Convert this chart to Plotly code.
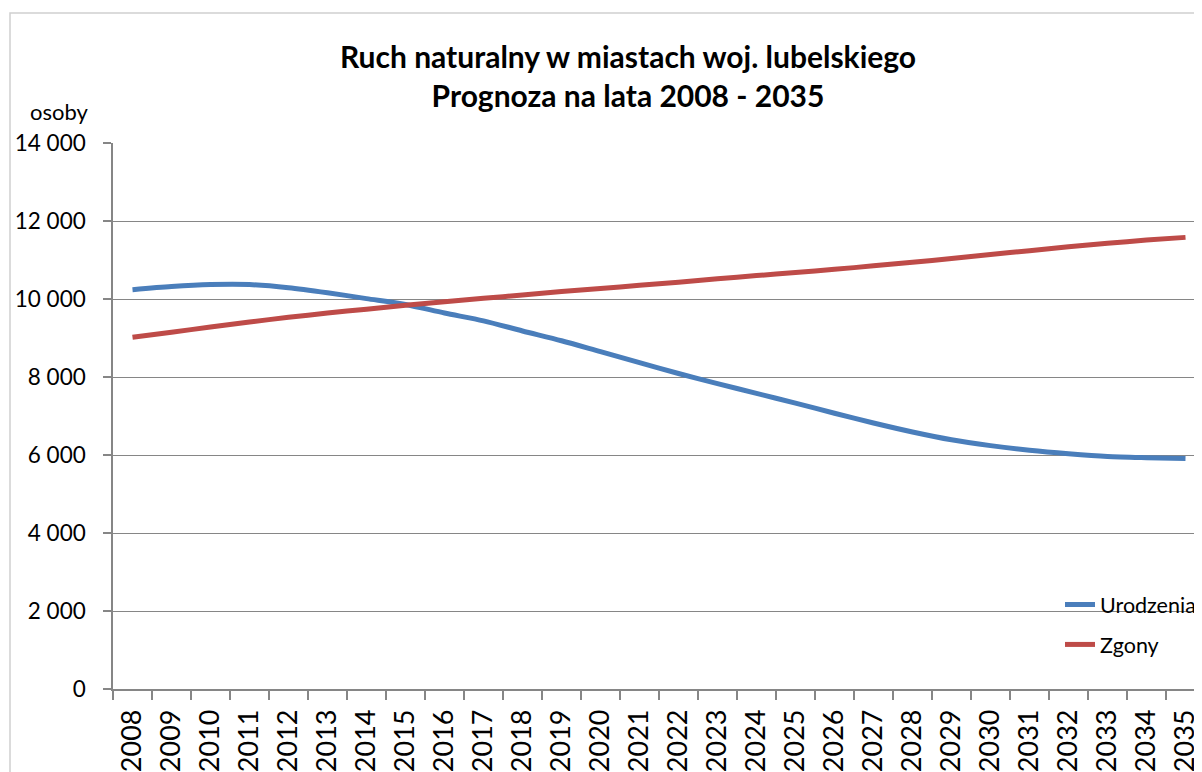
import plotly.graph_objects as go

# data
years = [str(y) for y in range(2008, 2036)]
urodzenia = [10240, 10320, 10370, 10370, 10290, 10160, 10010, 9860, 9640, 9440,
             9180, 8930, 8650, 8370, 8090, 7830, 7580, 7330, 7070, 6820,
             6590, 6390, 6240, 6120, 6030, 5960, 5930, 5910]
zgony = [9020, 9150, 9280, 9410, 9530, 9640, 9740, 9840, 9930, 10020,
         10100, 10190, 10270, 10350, 10430, 10520, 10600, 10680, 10760, 10850,
         10940, 11040, 11140, 11240, 11340, 11430, 11510, 11580]

# the page body adds an 8px offset, so positions here are shifted by -8
W, H = 1202, 772
ml, mr, mt, mb = 105, 0, 135, 91
pw = W - ml - mr
ph = H - mt - mb
grey = "#868686"
font = "Lato"


def px_x(p):
    return (p - ml) / pw


def px_y(p):
    return (H - mb - p) / ph


fig = go.Figure()
fig.add_trace(go.Scatter(x=years, y=urodzenia, name="Urodzenia", mode="lines",
                         legendgroup="a",
                         line=dict(color="#4A7EBB", width=5, shape="spline", smoothing=0.8)))
fig.add_trace(go.Scatter(x=years, y=zgony, name="Zgony", mode="lines",
                         legendgroup="b",
                         line=dict(color="#BE4B48", width=5, shape="spline", smoothing=0.8)))

fig.update_layout(
    width=W, height=H,
    margin=dict(l=ml, r=mr, t=mt, b=mb, pad=0),
    paper_bgcolor="white",
    plot_bgcolor="white",
    font=dict(family=font, color="black", size=22),
    separators=", ",
    title=dict(text="<b>Ruch naturalny w miastach woj. lubelskiego<br>Prognoza na lata 2008 - 2035</b>",
               x=620 / W, xanchor="center", xref="container",
               y=1 - 60 / H, yanchor="top",
               font=dict(family=font, size=30, color="black")),
    legend=dict(x=px_x(1052), y=px_y(576), xanchor="left", yanchor="top",
                bgcolor="rgba(0,0,0,0)", font=dict(size=21.5),
                traceorder="grouped", tracegroupgap=9),
    showlegend=True,
)

fig.update_xaxes(
    type="category", range=[-0.5, -0.5 + pw / 39.0],
    showgrid=False, showline=True, linecolor=grey, linewidth=1.5,
    ticks="outside", tickson="boundaries", ticklen=9, tickcolor=grey, tickwidth=1.5,
    tickangle=-90, tickfont=dict(size=27), ticklabelstandoff=8,
)
fig.update_yaxes(
    range=[0, 14000], dtick=2000, tickformat=",d",
    showgrid=True, gridcolor=grey, gridwidth=1.3,
    showline=True, linecolor=grey, linewidth=1.5, zeroline=False,
    ticks="outside", ticklen=8, tickcolor=grey, tickwidth=1.5,
    tickfont=dict(size=22.5), ticklabelstandoff=13,
)

# axis unit label above the y axis
fig.add_annotation(text="osoby", xref="paper", yref="paper",
                   x=px_x(83), y=px_y(103), xanchor="right", yanchor="middle",
                   showarrow=False, font=dict(size=22))

# outer chart border
fig.add_shape(type="rect", xref="paper", yref="paper",
              x0=px_x(2), x1=px_x(1260), y0=px_y(800), y1=px_y(5),
              line=dict(color="#D0D0D0", width=1.5), layer="below")

fig.write_html("out.html")
